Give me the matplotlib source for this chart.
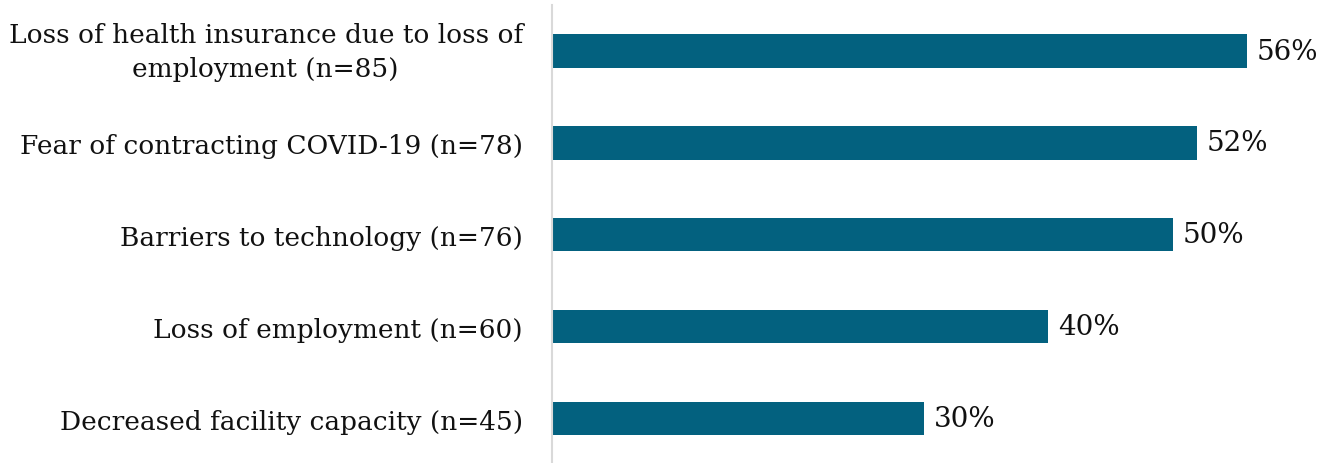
import matplotlib.pyplot as plt

# Reasons for delayed care, share of respondents
categories = [
    "Loss of health insurance due to loss of\nemployment (n=85)",
    "Fear of contracting COVID-19 (n=78)",
    "Barriers to technology (n=76)",
    "Loss of employment (n=60)",
    "Decreased facility capacity (n=45)",
]
percents = [56, 52, 50, 40, 30]

bar_color = "#03617f"

plt.rcParams["font.family"] = ["DejaVu Serif"]

fig = plt.figure(figsize=(13.33, 4.64), dpi=100)
ax = fig.add_axes([552 / 1333, -0.004, (1325 - 552) / 1333, 0.991])

y = list(range(len(categories)))
ax.barh(y, percents, height=0.36, color=bar_color)

for yi, p in zip(y, percents):
    ax.annotate(f"{p}%", (p, yi), xytext=(7, 0), textcoords="offset points",
                va="center", ha="left", fontsize=20, color="#111111")

ax.set_yticks(y)
ax.set_yticklabels(categories, fontsize=19, color="#111111", ha="right",
                   multialignment="center", linespacing=1.45)
# two-line label: center the whole block on the bar
ax.get_yticklabels()[0].set_va("center")
ax.tick_params(axis="y", length=0, pad=21)
ax.set_xticks([])
ax.set_xlim(0, (1325 - 552) / 12.41)
ax.set_ylim(len(categories) - 0.5, -0.5)

for side in ["top", "right", "bottom"]:
    ax.spines[side].set_visible(False)
ax.spines["left"].set_color("#d9d9d9")
ax.spines["left"].set_linewidth(1.5)

fig.savefig("out.png", dpi=100)
